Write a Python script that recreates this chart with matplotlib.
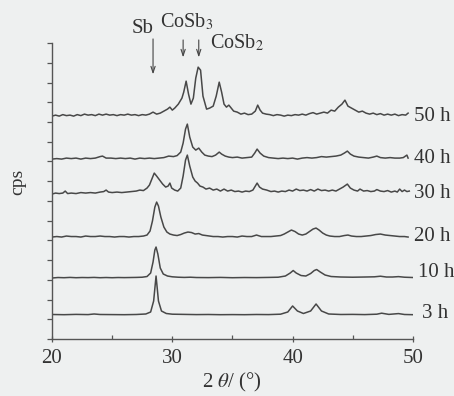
import matplotlib
matplotlib.use('Agg')
import matplotlib.pyplot as plt
import numpy as np

plt.rcParams['font.family'] = ['Liberation Serif', 'DejaVu Serif']
plt.rcParams['mathtext.fontset'] = 'stix'

# время помола и смещение кривой по вертикали
labels = ['3 h', '10 h', '20 h', '30 h', '40 h', '50 h']
baselines = [24, 61, 102, 145, 180, 223]

# 2θ и интенсивность (над базовой линией)
tt_3h = [20.0, 21.0, 22.0, 23.0, 23.5, 24.0, 25.0, 26.0, 27.0, 27.8, 28.2, 28.45, 28.65, 28.85,
         29.1, 29.5, 30.0, 31.0, 32.0, 33.0, 34.0, 35.0, 36.0, 37.0, 38.0, 39.0, 39.6, 40.0,
         40.4, 40.9, 41.5, 41.95, 42.4, 43.0, 44.0, 45.0, 46.0, 47.0, 47.4, 48.0, 48.8, 49.3, 50.0]
i_3h = [0.5, 0.3, 0.6, 0.4, 1.0, 0.5, 0.4, 0.3, 0.5, 1.0, 3, 14, 39, 14,
        4, 1.5, 0.8, 0.6, 0.4, 0.5, 0.3, 0.4, 0.3, 0.5, 0.4, 0.8, 3, 9,
        4, 1.5, 4, 11, 4, 1.0, 0.5, 0.6, 0.4, 0.8, 1.8, 0.6, 1.4, 0.5, 0.3]

tt_10h = [20.0, 20.5, 21.0, 21.5, 22.0, 22.5, 23.0, 23.5, 24.0, 24.5, 25.0, 25.5, 26.0, 26.5,
          27.0, 27.5, 27.9, 28.2, 28.4, 28.55, 28.65, 28.8, 29.0, 29.25, 29.6, 30.0, 30.5, 31.0,
          31.5, 32.0, 33.0, 34.0, 35.0, 36.0, 37.0, 38.0, 38.8, 39.4, 39.8, 40.05, 40.3, 40.7,
          41.1, 41.5, 41.8, 42.0, 42.3, 42.7, 43.2, 44.0, 45.0, 46.0, 46.8, 47.3, 47.8, 48.3,
          48.8, 49.3, 50.0]
i_10h = [0, 0.5, 0.3, 0.6, 0.3, 0.5, 0.4, 0.6, 0.3, 0.5, 0.3, 0.5, 0.4, 0.5,
         0.6, 0.8, 1.5, 5, 16, 28, 31, 24, 10, 4, 2, 1.2, 0.8, 0.6,
         0.8, 0.5, 0.4, 0.6, 0.3, 0.5, 0.4, 0.6, 0.8, 2, 5, 7.5, 5, 2.5,
         2, 4.5, 7.5, 8.5, 6, 3, 1.5, 1, 0.8, 1, 1.2, 1.8, 1, 1,
         1.4, 0.8, 0.5]

tt_20h = [20.0, 20.4, 20.8, 21.2, 21.6, 22.0, 22.4, 22.8, 23.2, 23.6, 24.0, 24.4, 24.8, 25.2,
          25.6, 26.0, 26.4, 26.8, 27.2, 27.6, 27.9, 28.15, 28.35, 28.55, 28.7, 28.85, 29.05, 29.3,
          29.55, 29.8, 30.1, 30.4, 30.7, 31.0, 31.3, 31.6, 31.9, 32.2, 32.5, 32.8, 33.1, 33.4,
          33.8, 34.2, 34.6, 35.0, 35.4, 35.8, 36.2, 36.6, 37.0, 37.4, 37.8, 38.2, 38.6, 39.0,
          39.3, 39.6, 39.9, 40.2, 40.5, 40.8, 41.1, 41.4, 41.7, 41.95, 42.2, 42.5, 42.8, 43.1,
          43.5, 43.9, 44.3, 44.6, 44.9, 45.3, 45.7, 46.1, 46.5, 46.9, 47.3, 47.7, 48.1, 48.5,
          48.9, 49.3, 49.6]
i_20h = [0, 0.5, 0, 1, 0.5, 0.5, 0, 1, 0.5, 0.5, 1, 0.5, 0.5, 0,
         0.5, 0.5, 0, 0.5, 0.5, 1, 2, 6, 16, 30, 35, 31, 20, 10,
         5, 3, 2, 1.5, 2.5, 4, 5, 4.5, 3, 3.5, 2, 1.5, 1, 0.5,
         0.5, 0, 0.5, 0.5, 0, 1, 0.5, 0.5, 2, 0.5, 0.5, 0.5, 1, 1.5,
         3, 5, 7, 5.5, 3, 2, 3, 5.5, 8, 9, 7, 4, 2, 1,
         0.5, 0.5, 1.5, 2, 1, 0.5, 0.5, 1, 1.5, 2.5, 3, 2, 1.5, 1,
         0.5, 0.5, 0]

tt_30h = [20.0, 20.3, 20.6, 20.9, 21.1, 21.3, 21.6, 22.0, 22.4, 22.8, 23.2, 23.6, 24.0, 24.3,
          24.5, 24.7, 25.0, 25.4, 25.8, 26.2, 26.6, 27.0, 27.3, 27.6, 27.9, 28.1, 28.3, 28.5,
          28.7, 28.95, 29.2, 29.45, 29.65, 29.8, 29.95, 30.2, 30.45, 30.7, 30.9, 31.1, 31.25, 31.45,
          31.7, 31.9, 32.1, 32.3, 32.55, 32.8, 33.1, 33.4, 33.7, 34.0, 34.3, 34.6, 34.9, 35.2,
          35.5, 35.8, 36.1, 36.4, 36.7, 36.9, 37.05, 37.25, 37.5, 37.85, 38.2, 38.5, 38.8, 39.1,
          39.4, 39.7, 40.0, 40.3, 40.6, 40.9, 41.2, 41.5, 41.8, 42.1, 42.4, 42.7, 43.0, 43.3,
          43.6, 43.9, 44.2, 44.55, 44.8, 45.1, 45.4, 45.6, 45.9, 46.2, 46.5, 46.8, 47.0, 47.3,
          47.6, 47.9, 48.2, 48.5, 48.7, 48.9, 49.1, 49.3, 49.5, 49.7]
i_30h = [0, 1, 0.5, 1, 3, 0.5, 1, 0.5, 1.5, 1, 1.5, 1, 2, 2.5,
         4, 2, 1.5, 2, 1.5, 2, 2.5, 3, 4, 3.5, 6, 9, 15, 21,
         18, 14, 10, 7, 8, 11, 6, 4, 3, 6, 18, 34, 39, 28,
         17, 13, 11, 8, 7, 5, 6, 4, 5, 3, 5, 3, 4, 2.5,
         3, 2, 3, 2.5, 4, 8, 11, 7, 5, 4, 2.5, 3, 2, 3,
         2.5, 4, 3, 5, 3.5, 4, 3, 4.5, 3, 5, 3.5, 4, 3, 4,
         3, 5, 7, 10, 6, 4, 3, 5, 3, 3.5, 2.5, 3, 4.5, 3,
         2.5, 3.5, 2, 3, 2, 5, 2.5, 4, 2.5, 3]

tt_40h = [20.0, 20.4, 20.8, 21.2, 21.6, 22.0, 22.4, 22.8, 23.2, 23.6, 24.0, 24.2, 24.5, 24.9,
          25.3, 25.7, 26.1, 26.5, 26.9, 27.3, 27.7, 28.1, 28.5, 28.9, 29.3, 29.7, 30.1, 30.4,
          30.7, 30.9, 31.1, 31.25, 31.45, 31.7, 31.95, 32.2, 32.45, 32.7, 33.0, 33.3, 33.6, 33.9,
          34.1, 34.4, 34.7, 35.0, 35.4, 35.8, 36.2, 36.6, 36.85, 37.05, 37.3, 37.6, 38.0, 38.4,
          38.8, 39.2, 39.6, 40.0, 40.4, 40.8, 41.2, 41.6, 42.0, 42.4, 42.8, 43.2, 43.6, 44.0,
          44.3, 44.55, 44.8, 45.1, 45.5, 45.9, 46.3, 46.7, 47.0, 47.3, 47.7, 48.1, 48.5, 48.9,
          49.2, 49.5, 49.6]
i_40h = [0, 0.5, 0, 1, 0.5, 1, 0, 1, 0.5, 1, 2.5, 3, 1, 1,
         0.5, 1, 0.5, 1, 0, 1, 0.5, 1, 0.5, 1, 1.5, 3, 2.5, 3.5,
         7, 16, 30, 35, 22, 12, 9, 11, 7, 4, 3, 2.5, 4, 7,
         5, 3, 2, 1.5, 2, 1, 1.5, 2, 6, 10, 6, 3, 1.5, 1,
         0.5, 1, 0.5, 1, 0, 1, 1.5, 1, 1.5, 2.5, 2, 2.5, 3, 4,
         6, 8, 5, 3, 2, 1.5, 1, 2, 3, 1.5, 1, 1.5, 1, 1,
         1.5, 4, 1]

tt_50h = [20.0, 20.3, 20.6, 20.9, 21.2, 21.5, 21.8, 22.1, 22.4, 22.7, 23.0, 23.3, 23.6, 23.9,
          24.2, 24.5, 24.8, 25.1, 25.4, 25.7, 26.0, 26.3, 26.6, 26.9, 27.2, 27.5, 27.8, 28.1,
          28.4, 28.7, 29.0, 29.3, 29.6, 29.8, 30.0, 30.2, 30.5, 30.8, 30.95, 31.15, 31.35, 31.55,
          31.75, 31.95, 32.15, 32.35, 32.55, 32.85, 33.1, 33.4, 33.65, 33.9, 34.1, 34.3, 34.5, 34.7,
          34.9, 35.1, 35.4, 35.7, 36.0, 36.3, 36.6, 36.9, 37.1, 37.3, 37.5, 37.8, 38.1, 38.4,
          38.7, 39.0, 39.3, 39.6, 39.9, 40.2, 40.5, 40.8, 41.1, 41.4, 41.7, 42.0, 42.3, 42.6,
          42.9, 43.2, 43.5, 43.8, 44.1, 44.35, 44.6, 44.9, 45.2, 45.5, 45.8, 46.1, 46.4, 46.7,
          47.0, 47.3, 47.6, 47.9, 48.2, 48.5, 48.8, 49.1, 49.4, 49.6]
i_50h = [0, 1, 0, 1.5, 0.5, 1, 0, 1.5, 0.5, 2, 1, 1.5, 0.5, 2,
         1, 2, 1, 1.5, 0.5, 1.5, 1, 2, 1, 1.5, 0.5, 1.5, 1, 2,
         4, 2, 3, 5, 7, 9, 6, 8, 12, 18, 24, 35, 22, 12,
         18, 38, 49, 46, 20, 7, 8, 10, 20, 34, 24, 12, 9, 11,
         8, 5, 4, 2, 3, 1.5, 2, 5, 11, 6, 3, 2, 1.5, 0.5,
         1.5, 1, 0, 1, 0.5, 1.5, 1, 2, 1, 2.5, 3.5, 2, 3, 4,
         3, 6, 5, 9, 12, 16, 10, 8, 6, 4, 5, 3, 2, 3,
         1.5, 2.5, 1, 2, 1, 2, 0.5, 1.5, 1, 3]

curves = [(tt_3h, i_3h), (tt_10h, i_10h), (tt_20h, i_20h),
          (tt_30h, i_30h), (tt_40h, i_40h), (tt_50h, i_50h)]
label_x = [50.75, 50.45, 50.05, 50.05, 50.05, 50.05]
label_dy = [1, 6, 1, 1, 1, 0]

bg = '#eef0f0'
ink = '#333333'

fig = plt.figure(figsize=(4.54, 3.96), dpi=100, facecolor=bg)
ax = fig.add_axes([0.1145, 0.144, 0.795, 0.747], facecolor=bg)

for (tt, inten), base, lab, lx, dy in zip(curves, baselines, labels, label_x, label_dy):
    ax.plot(tt, np.array(inten) + base, color='#484848', lw=1.1)
    ax.text(lx, base + dy, lab, ha='left', va='center', fontsize=15,
            color=ink, clip_on=False)

ax.set_xlim(20, 50)
ax.set_ylim(0, 296)
ax.set_xticks([20, 30, 40, 50])
ax.set_xticks([25, 35, 45], minor=True)
ax.set_yticks(np.linspace(0, 296, 16))
ax.set_yticklabels([])

for s in ['top', 'right']:
    ax.spines[s].set_visible(False)
for s in ['left', 'bottom']:
    ax.spines[s].set_color('#555555')
    ax.spines[s].set_linewidth(1.0)

ax.tick_params(axis='x', which='major', direction='inout', length=5, width=0.9,
               colors='#555555', labelcolor=ink, labelsize=15, pad=4.5)
ax.tick_params(axis='x', which='minor', direction='in', length=3, width=0.9, colors='#555555')
ax.tick_params(axis='y', which='major', direction='out', length=3.5, width=0.9, colors='#555555')

ax.set_xlabel(r'2 $\theta$/ (°)', fontsize=15, color=ink, labelpad=2)
ax.set_ylabel('cps', fontsize=14, color=ink)
ax.yaxis.set_label_coords(-0.07, 0.53)

# подписи фаз со стрелками
arr = dict(arrowstyle='->,head_length=0.45,head_width=0.15', lw=0.8, color='#444444')
ax.annotate('', xy=(28.4, 262), xytext=(28.4, 303), arrowprops=arr, annotation_clip=False)
ax.annotate('', xy=(30.9, 279), xytext=(30.9, 302), arrowprops=arr, annotation_clip=False)
ax.annotate('', xy=(32.2, 279), xytext=(32.2, 302), arrowprops=arr, annotation_clip=False)
ax.text(27.55, 311, 'Sb', ha='center', va='center', fontsize=15, color=ink, clip_on=False)
ax.text(31.2, 317, r'CoSb$_3$', ha='center', va='center', fontsize=14.5, color=ink, clip_on=False)
ax.text(33.1, 296, r'CoSb$_2$', ha='left', va='center', fontsize=14.5, color=ink, clip_on=False)

fig.savefig('out.png', dpi=100, facecolor=bg)
